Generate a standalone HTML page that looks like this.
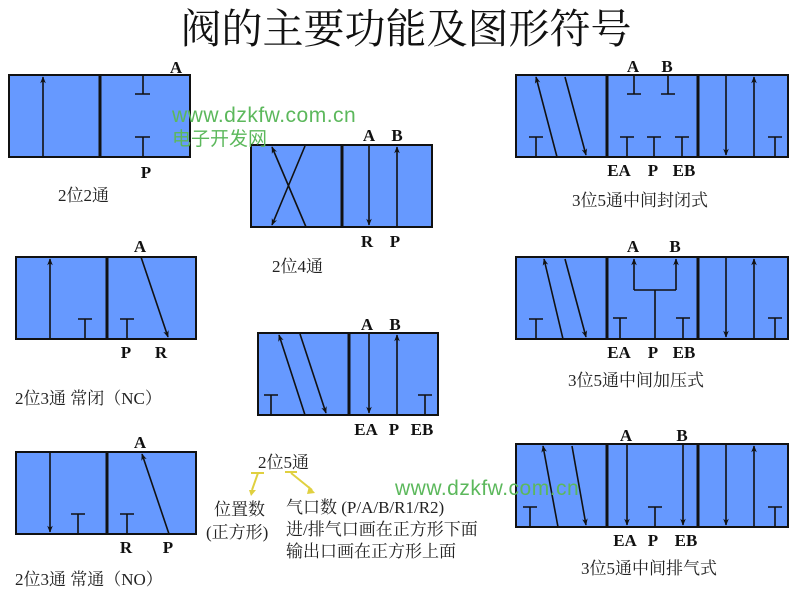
<!DOCTYPE html>
<html><head><meta charset="utf-8"><style>
html,body{margin:0;padding:0;background:#fff;}
svg{display:block;}
.t{font-family:"Liberation Serif","Noto Serif CJK SC",serif;fill:#111;}
.l{font-family:"Liberation Serif","Noto Serif CJK SC",serif;font-size:17px;font-weight:bold;fill:#111;}
.c{font-family:"Liberation Serif","Noto Serif CJK SC",serif;font-size:17px;fill:#222;}
.g{font-family:"Liberation Sans","Noto Sans CJK SC",sans-serif;fill:#5cb85c;}
</style></head><body>
<svg width="800" height="598" viewBox="0 0 800 598" xmlns="http://www.w3.org/2000/svg">
<defs>
<marker id="ar" viewBox="0 0 10 10" refX="9" refY="5" markerWidth="7" markerHeight="8" orient="auto" markerUnits="userSpaceOnUse">
<path d="M0,1 L10,5 L0,9 L3,5 Z" fill="#111"/></marker>
</defs>
<text class="t" x="406" y="43" font-size="41" text-anchor="middle">阀的主要功能及图形符号</text>

<g fill="#6699ff" stroke="#111" stroke-width="2">
<rect x="9" y="75" width="181" height="82"/>
<rect x="251" y="145" width="181" height="82"/>
<rect x="16" y="257" width="180" height="82"/>
<rect x="258" y="333" width="180" height="82"/>
<rect x="16" y="452" width="180" height="82"/>
<rect x="516" y="75" width="272" height="82"/>
<rect x="516" y="257" width="272" height="82"/>
<rect x="516" y="444" width="272" height="83"/>
</g>
<g stroke="#111" stroke-width="3">
<line x1="100" y1="75" x2="100" y2="157"/>
<line x1="342" y1="145" x2="342" y2="227"/>
<line x1="107" y1="257" x2="107" y2="339"/>
<line x1="349" y1="333" x2="349" y2="415"/>
<line x1="107" y1="452" x2="107" y2="534"/>
<line x1="607" y1="75" x2="607" y2="157"/><line x1="698" y1="75" x2="698" y2="157"/>
<line x1="607" y1="257" x2="607" y2="339"/><line x1="698" y1="257" x2="698" y2="339"/>
<line x1="607" y1="444" x2="607" y2="527"/><line x1="698" y1="444" x2="698" y2="527"/>
</g>
<g stroke="#111" stroke-width="1.6" fill="none">
<line x1="43" y1="157" x2="43" y2="77" marker-end="url(#ar)"/>
<path d="M143,75 V94 M135,94 H150 M143,157 V137 M135,137 H150"/>
<line x1="306" y1="227" x2="272" y2="147" marker-end="url(#ar)"/>
<line x1="305" y1="146" x2="272" y2="225" marker-end="url(#ar)"/>
<line x1="369" y1="145" x2="369" y2="225" marker-end="url(#ar)"/>
<line x1="397" y1="227" x2="397" y2="147" marker-end="url(#ar)"/>
<line x1="50" y1="339" x2="50" y2="259" marker-end="url(#ar)"/>
<path d="M85,339 V319 M78,319 H92 M127,339 V319 M120,319 H134"/>
<line x1="141" y1="257" x2="168" y2="337" marker-end="url(#ar)"/>
<path d="M271,415 V395 M264,395 H278 M425,415 V395 M418,395 H432"/>
<line x1="305" y1="415" x2="279" y2="335" marker-end="url(#ar)"/>
<line x1="300" y1="334" x2="326" y2="413" marker-end="url(#ar)"/>
<line x1="369" y1="333" x2="369" y2="413" marker-end="url(#ar)"/>
<line x1="397" y1="415" x2="397" y2="335" marker-end="url(#ar)"/>
<line x1="50" y1="452" x2="50" y2="532" marker-end="url(#ar)"/>
<path d="M78,534 V514 M71,514 H85 M127,534 V514 M120,514 H134"/>
<line x1="169" y1="534" x2="142" y2="454" marker-end="url(#ar)"/>

<path d="M536,157 V137 M529,137 H543"/>
<line x1="557" y1="157" x2="536" y2="77" marker-end="url(#ar)"/>
<line x1="565" y1="77" x2="586" y2="155" marker-end="url(#ar)"/>
<path d="M634,75 V94 M627,94 H641 M668,75 V94 M661,94 H675"/>
<path d="M627,157 V137 M620,137 H634 M654,157 V137 M647,137 H661 M682,157 V137 M675,137 H689"/>
<line x1="726" y1="75" x2="726" y2="155" marker-end="url(#ar)"/>
<line x1="754" y1="157" x2="754" y2="77" marker-end="url(#ar)"/>
<path d="M775,157 V137 M768,137 H782"/>
<path d="M536,339 V319 M529,319 H543"/>
<line x1="563" y1="339" x2="544" y2="259" marker-end="url(#ar)"/>
<line x1="565" y1="259" x2="586" y2="337" marker-end="url(#ar)"/>
<path d="M655,339 V290 M634,290 H676"/>
<line x1="634" y1="290" x2="634" y2="259" marker-end="url(#ar)"/>
<line x1="676" y1="290" x2="676" y2="259" marker-end="url(#ar)"/>
<path d="M620,339 V318 M613,318 H627 M683,339 V318 M676,318 H690"/>
<line x1="726" y1="257" x2="726" y2="337" marker-end="url(#ar)"/>
<line x1="754" y1="339" x2="754" y2="259" marker-end="url(#ar)"/>
<path d="M775,339 V318 M768,318 H782"/>
<path d="M530,527 V507 M523,507 H537"/>
<line x1="558" y1="527" x2="543" y2="446" marker-end="url(#ar)"/>
<line x1="572" y1="446" x2="586" y2="525" marker-end="url(#ar)"/>
<line x1="627" y1="444" x2="627" y2="525" marker-end="url(#ar)"/>
<line x1="683" y1="444" x2="683" y2="525" marker-end="url(#ar)"/>
<path d="M655,527 V507 M648,507 H662"/>
<line x1="726" y1="444" x2="726" y2="525" marker-end="url(#ar)"/>
<line x1="754" y1="527" x2="754" y2="446" marker-end="url(#ar)"/>
<path d="M775,527 V507 M768,507 H782"/>
</g>

<g class="l" text-anchor="middle">
<text x="176" y="73">A</text><text x="146" y="178">P</text>
<text x="369" y="141">A</text><text x="397" y="141">B</text>
<text x="367" y="247">R</text><text x="395" y="247">P</text>
<text x="140" y="252">A</text><text x="126" y="358">P</text><text x="161" y="358">R</text>
<text x="367" y="330">A</text><text x="395" y="330">B</text>
<text x="366" y="435">EA</text><text x="394" y="435">P</text><text x="422" y="435">EB</text>
<text x="140" y="448">A</text><text x="126" y="553">R</text><text x="168" y="553">P</text>
<text x="633" y="72">A</text><text x="667" y="72">B</text>
<text x="619" y="176">EA</text><text x="653" y="176">P</text><text x="684" y="176">EB</text>
<text x="633" y="252">A</text><text x="675" y="252">B</text>
<text x="619" y="358">EA</text><text x="653" y="358">P</text><text x="684" y="358">EB</text>
<text x="626" y="441">A</text><text x="682" y="441">B</text>
<text x="625" y="546">EA</text><text x="653" y="546">P</text><text x="686" y="546">EB</text>
</g>

<g class="c">
<text x="58" y="201">2位2通</text>
<text x="272" y="272">2位4通</text>
<text x="15" y="404">2位3通 常闭（NC）</text>
<text x="15" y="585">2位3通 常通（NO）</text>
<text x="258" y="468">2位5通</text>
<text x="572" y="206">3位5通中间封闭式</text>
<text x="568" y="386">3位5通中间加压式</text>
<text x="581" y="574">3位5通中间排气式</text>
<text x="214" y="515">位置数</text>
<text x="206" y="538">(正方形)</text>
<text x="286" y="513">气口数 (P/A/B/R1/R2)</text>
<text x="286" y="535">进/排气口画在正方形下面</text>
<text x="286" y="557">输出口画在正方形上面</text>
</g>
<g stroke="#e0d040" stroke-width="2" fill="none">
<path d="M251,473 H264 M258,473 L252,490 M285,472 H297 M291,473 L312,490"/>
</g>
<g fill="#e0d040"><path d="M249,490 L256,490 L251,496 Z"/><path d="M309,486 L315,493 L307,494 Z"/></g>

<text class="g" x="172" y="122" font-size="21" letter-spacing="0.5">www.dzkfw.com.cn</text>
<text class="g" x="172" y="145" font-size="19">电子开发网</text>
<text class="g" x="395" y="495" font-size="21" letter-spacing="0.5">www.dzkfw.com.cn</text>
</svg>
</body></html>
